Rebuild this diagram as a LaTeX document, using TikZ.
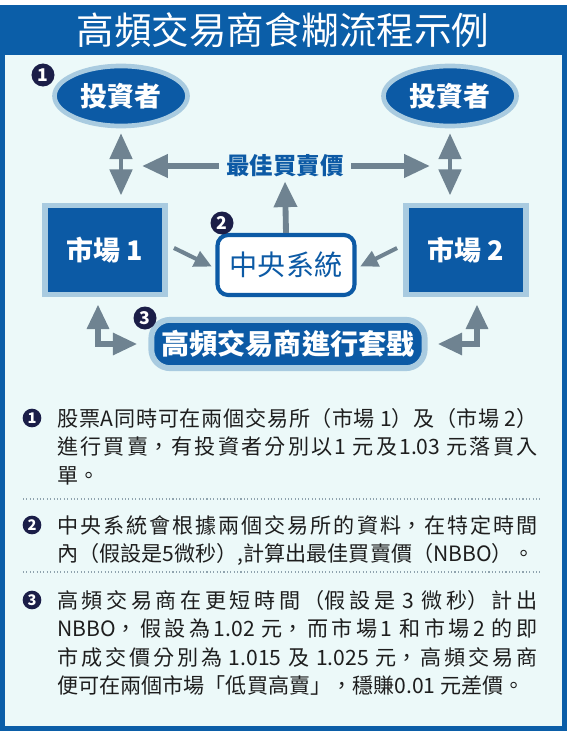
\documentclass[tikz,border=0pt]{standalone}
\usepackage{fontspec}
\setmainfont{Noto Sans CJK TC}
\usetikzlibrary{arrows.meta,positioning,shapes.geometric}
\definecolor{FrameBlue}{HTML}{0B5EA8}
\definecolor{PanelCyan}{HTML}{ECF9F9}
\definecolor{BoxBlue}{HTML}{0C5AA5}
\definecolor{GlowBlue}{HTML}{A9CBE0}
\definecolor{ArrowGrey}{HTML}{6F8391}
\definecolor{BadgeNavy}{HTML}{1B1E48}
\definecolor{BodyInk}{HTML}{1E1E1E}
\definecolor{SepGrey}{HTML}{8FA3AE}
\XeTeXlinebreaklocale "zh"
\XeTeXlinebreakskip=0pt plus 3pt

\begin{document}
\begin{tikzpicture}[x=0.03cm,y=-0.03cm,
  investor/.style={ellipse,fill=BoxBlue,draw=GlowBlue,line width=4pt,minimum width=3.99cm,minimum height=1.8cm,inner sep=0pt,text=white,font=\fontsize{23pt}{23pt}\selectfont\bfseries},
  market/.style={fill=BoxBlue,draw=GlowBlue,line width=5pt,minimum width=3.6cm,minimum height=2.67cm,text=white,font=\fontsize{23pt}{23pt}\selectfont\bfseries},
  central/.style={fill=white,draw=BoxBlue,line width=3.5pt,rounded corners=9pt,minimum width=4.11cm,minimum height=1.8cm,text=BoxBlue,font=\fontsize{24pt}{24pt}\selectfont},
  pill/.style={fill=BoxBlue,draw=GlowBlue,line width=5pt,rounded corners=16pt,minimum width=8.2cm,minimum height=1.45cm,text=white,font=\fontsize{24pt}{24pt}\selectfont\bfseries},
  badge/.style={circle,fill=BadgeNavy,text=white,inner sep=0pt,minimum size=0.69cm,font=\fontsize{15pt}{15pt}\selectfont\bfseries},
  smallbadge/.style={badge,minimum size=0.56cm,font=\fontsize{12.5pt}{12.5pt}\selectfont\bfseries},
  note/.style={anchor=north west,text width=410pt,align=justify,inner sep=0pt,text=BodyInk,font=\fontsize{18pt}{24.3pt}\selectfont},
  arr/.style={draw=ArrowGrey,line width=5pt,-{Triangle[length=22pt,width=19pt]}},
  thinarr/.style={draw=ArrowGrey,line width=3.5pt,-{Triangle[length=15pt,width=14pt]}},
  dblarr/.style={draw=ArrowGrey,line width=3.5pt,{Triangle[length=22pt,width=19pt]}-{Triangle[length=22pt,width=19pt]}},
  elbowarr/.style={draw=ArrowGrey,line width=5pt,{Triangle[length=21pt,width=18pt]}-{Triangle[length=21pt,width=18pt]}},
  sep/.style={draw=SepGrey,line width=0.9pt,dotted}
]
\useasboundingbox (0,0) rectangle (567,731);
\fill[white] (0,0) rectangle (567,731);
\fill[FrameBlue] (0,5) rectangle (567,731);
\fill[PanelCyan] (5,55) rectangle (562,726);

\node[text=white,font=\fontsize{32pt}{32pt}\selectfont] (title) at (283,30) {高頻交易商食糊流程示例};

\node[investor] (invL) at (121,96) {投資者};
\node[investor] (invR) at (450,96) {投資者};
\node[market] (mkt1) at (105,250) {市場 1};
\node[market] (mkt2) at (466,250) {市場 2};
\node[central] (central) at (286,265) {中央系統};
\node[pill] (hft) at (288,344) {高頻交易商進行套戥};
\node[text=BoxBlue,font=\fontsize{20pt}{20pt}\selectfont\bfseries] (nbbo) at (285,166) {最佳買賣價};

\draw[dblarr,shorten <=0.15cm,shorten >=0.22cm] (invL.south) -- (invL.south |- mkt1.north);
\draw[dblarr,shorten <=0.15cm,shorten >=0.22cm] (invR.south) -- (invR.south |- mkt2.north);
\draw[arr,shorten <=0.1cm,shorten >=0.63cm] (nbbo.west) -- (nbbo.west -| invL.south);
\draw[arr,shorten <=0.1cm,shorten >=0.6cm] (nbbo.east) -- (nbbo.east -| invR.south);
\draw[arr] (central.north) -- (nbbo.south);
\draw[thinarr,shorten <=0.2cm,shorten >=0.12cm] ([yshift=0.15cm]mkt1.east) -- ([yshift=-0.1cm]central.west);
\draw[thinarr,shorten <=0.2cm,shorten >=0.12cm] ([yshift=0.15cm]mkt2.west) -- ([yshift=-0.1cm]central.east);
\draw[elbowarr,shorten <=0.21cm,shorten >=0.33cm] ([xshift=-0.21cm]mkt1.south) |- (hft.west);
\draw[elbowarr,shorten <=0.21cm,shorten >=0.3cm] ([xshift=0.33cm]mkt2.south) |- (hft.east);

\node[badge] (b1) at (43,75) {1};
\node[badge] (b2) at (222,223) {2};
\node[badge] (b3) at (145,318) {3};

\node[smallbadge] (n1) at (32,418) {1};
\node[note] (note1) at (57,408) {股票A同時可在兩個交易所（市場 1）及（市場 2）\linebreak 進行買賣，有投資者分別以1 元及1.03 元落買入\linebreak 單。};
\draw[sep] (23,499) -- (540,499);
\node[smallbadge] (n2) at (32,525) {2};
\node[note] (note2) at (57,515) {中央系統會根據兩個交易所的資料，在特定時間\linebreak 內（假設是5微秒）,計算出最佳買賣價（NBBO）。};
\draw[sep] (23,572) -- (540,572);
\node[smallbadge] (n3) at (32,600) {3};
\node[note] (note3) at (57,590) {高頻交易商在更短時間（假設是 3 微秒）計出\linebreak NBBO，假設為1.02 元，而市場1 和市場2 的即\linebreak 市成交價分別為 1.015 及 1.025 元，高頻交易商\linebreak 便可在兩個市場「低買高賣」，穩賺0.01 元差價。};
\end{tikzpicture}
\end{document}
